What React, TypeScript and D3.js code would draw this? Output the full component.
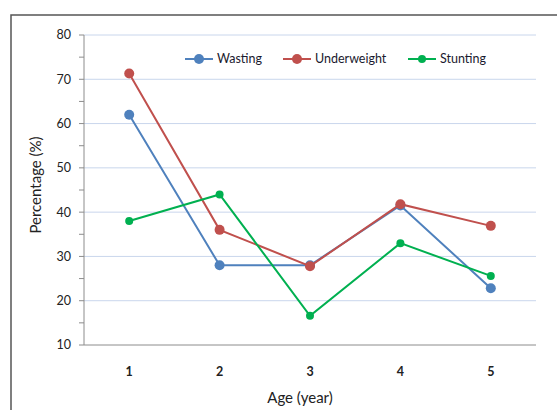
import React from "react";
import * as d3 from "d3";

const categories = ["1", "2", "3", "4", "5"];
const wasting = [62, 28, 28, 41.5, 22.8];
const underweight = [71.3, 36, 27.8, 41.8, 36.9];
const stunting = [38, 44, 16.6, 33, 25.6];
const yTicks = [10, 20, 30, 40, 50, 60, 70, 80];
const minorTicks = [15, 25, 35, 45, 55, 65, 75];

const seriesList = [
  { name: "Wasting", values: wasting, color: "#4F81BD", r: 5, lx: 185 },
  { name: "Underweight", values: underweight, color: "#C0504D", r: 5, lx: 283 },
  { name: "Stunting", values: stunting, color: "#00B050", r: 4, lx: 408 },
];

const W = 557, H = 410;
const left = 84, right = 536, top = 35, bottom = 345;
const font = "Lato, 'Open Sans', sans-serif";

export default function App() {
  const x = d3.scaleBand<string>().domain(categories).range([left, right]);
  const y = d3.scaleLinear().domain([10, 80]).range([bottom, top]);
  const cx = (c: string) => (x(c) as number) + x.bandwidth() / 2;
  const line = d3
    .line<number>()
    .x((_, i) => cx(categories[i]))
    .y((d) => y(d));

  return (
    <svg width={W} height={H} style={{ position: "absolute", left: 0, top: 0, background: "#fff" }}>
      <rect x={11} y={15} width={600} height={500} fill="#fff" stroke="#555" strokeWidth={1.5} />
      {yTicks.slice(1).map((t) => (
        <line key={t} x1={left} x2={right} y1={y(t)} y2={y(t)} stroke="#C9D6EC" strokeWidth={1} />
      ))}
      <line x1={left} x2={left} y1={top} y2={bottom} stroke="#8C8C8C" strokeWidth={1} />
      <line x1={left} x2={right} y1={bottom} y2={bottom} stroke="#8C8C8C" strokeWidth={1} />
      {yTicks.concat(minorTicks).map((t) => (
        <line key={"t" + t} x1={left - 5} x2={left} y1={y(t)} y2={y(t)} stroke="#8C8C8C" strokeWidth={1} />
      ))}
      {yTicks.map((t) => (
        <text key={"l" + t} x={71} y={y(t)} dy="0.35em" textAnchor="end" fontFamily={font} fontSize={12.5} fill="#222">
          {t}
        </text>
      ))}
      {categories.map((c) => (
        <text key={c} x={cx(c)} y={376} textAnchor="middle" fontFamily={font} fontSize={12.5} fontWeight="bold" fill="#222">
          {c}
        </text>
      ))}
      <text x={300} y={403} textAnchor="middle" fontFamily={font} fontSize={15} fill="#222">
        Age (year)
      </text>
      <text transform="translate(41,185) rotate(-90)" textAnchor="middle" fontFamily={font} fontSize={15} fill="#222">
        Percentage (%)
      </text>
      {seriesList.map((s) => (
        <g key={s.name}>
          <path d={line(s.values) || ""} fill="none" stroke={s.color} strokeWidth={2} />
          {s.values.map((v, i) => (
            <circle key={i} cx={cx(categories[i])} cy={y(v)} r={s.r} fill={s.color} />
          ))}
        </g>
      ))}
      {seriesList.map((s) => (
        <g key={"lg" + s.name}>
          <line x1={s.lx} x2={s.lx + 28} y1={59} y2={59} stroke={s.color} strokeWidth={2} />
          <circle cx={s.lx + 14} cy={59} r={s.r} fill={s.color} />
          <text x={s.lx + 32} y={59} dy="0.35em" fontFamily={font} fontSize={12.5} fill="#1a1a2e">
            {s.name}
          </text>
        </g>
      ))}
    </svg>
  );
}
